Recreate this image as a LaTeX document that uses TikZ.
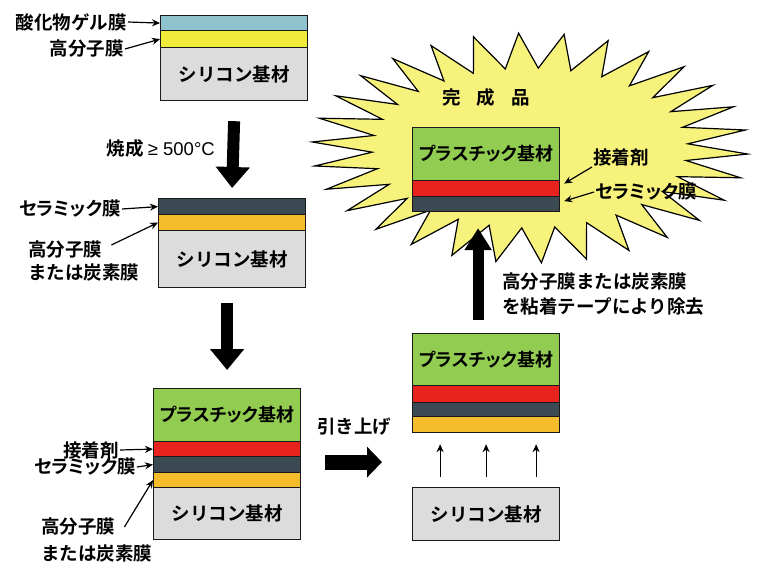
\documentclass[tikz,border=0pt]{standalone}
\usepackage{fontspec}
\setmainfont{Noto Sans CJK JP}[BoldFont={Noto Sans CJK JP Bold}]
\newfontfamily\jpp{Noto Sans CJK JP}[BoldFont={Noto Sans CJK JP Bold}, RawFeature=+palt]
\newfontfamily\lat{Liberation Sans}
\usetikzlibrary{arrows.meta}
\definecolor{cblue}{HTML}{8EC3CE}
\definecolor{cyel}{HTML}{F0EA3A}
\definecolor{cgray}{HTML}{DCDCDC}
\definecolor{cdark}{HTML}{3B4A52}
\definecolor{corange}{HTML}{F5BC2C}
\definecolor{cred}{HTML}{E8231E}
\definecolor{cgreen}{HTML}{92CD52}
\definecolor{cstar}{HTML}{F7F27C}
\newcommand{\jpf}{\bfseries\fontsize{18.5}{21}\selectfont}
\newcommand{\ppf}{\jpp\bfseries\fontsize{18}{21}\selectfont}
\newcommand{\cer}{{\jpp\bfseries\fontsize{18.5}{21}\selectfont セラミック膜}}
\begin{document}
\begin{tikzpicture}[x=1pt,y=-1pt,
  lay/.style={draw=black!90, line width=1.2pt, anchor=north west, inner sep=0pt, minimum width=147pt, font=\jpf},
  plas/.style={font=\ppf},
  lbl/.style={font=\jpf, inner sep=1pt},
  sarr/.style={line width=1.2pt, -{Stealth[length=8pt,width=7pt]}},
  barr/.style={line width=12pt, -{Triangle[length=21pt,width=33pt]}},
  harr/.style={line width=15pt, -{Triangle[length=15pt,width=30pt]}},
  uarr/.style={line width=11pt, -{Triangle[length=22pt,width=26pt]}},
  starsty/.style={draw=black, line width=1.2pt, fill=cstar, line join=miter}]
\path[use as bounding box] (0,0) rectangle (757,567);

% star
\draw[starsty] plot[domain=3:363, samples=61]
  ({530+(218-60*mod(round((\x-3)/6),2))*cos(\x)}, {148+(115-35*mod(round((\x-3)/6),2))*sin(\x)}) -- cycle;

% box 1
\node[lay, fill=cblue, minimum height=15pt] (b1a) at (160,15) {};
\node[lay, fill=cyel, minimum height=17pt] (b1b) at (160,30) {};
\node[lay, fill=cgray, minimum height=53pt] (b1c) at (160,47) {シリコン基材};
\node[lbl, anchor=east] (l1) at (128,22) {酸化物ゲル膜};
\node[lbl, anchor=east] (l2) at (125,49) {高分子膜};
\draw[sarr] (l1.east) -- (b1a.west);
\draw[sarr] (l2.east) -- (b1b.west);

% box 2
\node[lay, fill=cdark, minimum height=16pt] (b2a) at (158,198) {};
\node[lay, fill=corange, minimum height=16pt] (b2b) at (158,214) {};
\node[lay, fill=cgray, minimum height=57pt] (b2c) at (158,230) {シリコン基材};
\node[lbl, anchor=east] (l3) at (122,209) {\cer};
\node[lbl, anchor=west] (l4) at (27,250) {高分子膜};
\node[lbl, anchor=west] (l5) at (27,272) {または炭素膜};
\draw[sarr] (l3.east) -- (b2a.west);
\draw[sarr] ([xshift=8pt,yshift=5pt]l4.east) -- (b2b.west);

% box 3
\node[lay, plas, fill=cgreen, minimum height=53pt] (b3a) at (153,388) {プラスチック基材};
\node[lay, fill=cred, minimum height=15pt] (b3b) at (153,441) {};
\node[lay, fill=cdark, minimum height=16pt] (b3c) at (153,456) {};
\node[lay, fill=corange, minimum height=15pt] (b3d) at (153,472) {};
\node[lay, fill=cgray, minimum height=52pt] (b3e) at (153,487) {シリコン基材};
\node[lbl, anchor=east] (l6) at (120,450) {接着剤};
\node[lbl, anchor=east] (l7) at (137,467) {\cer};
\node[lbl, anchor=west] (l8) at (40,527) {高分子膜};
\node[lbl, anchor=west] (l9) at (40,553) {または炭素膜};
\draw[sarr] (l6.east) -- (b3b.west);
\draw[sarr] (l7.east) -- (b3c.west);
\draw[sarr] ([xshift=8pt]l8.east) -- (b3d.west);

% box 4
\node[lay, plas, fill=cgreen, minimum height=52pt] (b4a) at (412,333) {プラスチック基材};
\node[lay, fill=cred, minimum height=17pt] (b4b) at (412,385) {};
\node[lay, fill=cdark, minimum height=14pt] (b4c) at (412,402) {};
\node[lay, fill=corange, minimum height=16pt] (b4d) at (412,416) {};
\node[lay, fill=cgray, minimum height=53pt] (b4e) at (412,487) {シリコン基材};
\foreach \dx in {-46,0,50}
  \draw[sarr] ([xshift=\dx pt, yshift=10pt]b4e.north) -- ([xshift=\dx pt, yshift=-11pt]b4d.south);

% box 5 (final)
\node[lay, plas, fill=cgreen, minimum height=53pt] (b5a) at (412,127) {プラスチック基材};
\node[lay, fill=cred, minimum height=16pt] (b5b) at (412,180) {};
\node[lay, fill=cdark, minimum height=15pt] (b5c) at (412,196) {};
\node[lbl, anchor=west] (l10) at (592,157) {接着剤};
\node[lbl, anchor=west] (l11) at (594,192) {\cer};
\draw[sarr] (l10.south west) -- ([xshift=4pt,yshift=5pt]b5b.east);
\draw[sarr] (l11.west) -- ([xshift=4pt,yshift=3pt]b5c.east);

% texts
\node[lbl, anchor=east] (t1) at (216,148) {焼成 {\lat\mdseries ≥ 500°C}};
\node[lbl] (t2) at (486,97) {完\hspace{16pt}成\hspace{16pt}品};
\node[lbl, anchor=west] (t3) at (316,427) {引き上げ};
\node[lbl, anchor=west, inner sep=0pt] (t4) at (502,282) {高分子膜または炭素膜};
\node[lbl, anchor=west, inner sep=0pt] (t5) at (502,307) {を粘着テープにより除去};

% big arrows
\draw[barr] ([yshift=-20pt]b1c.south) -- ([yshift=10pt]b2a.north);
\draw[barr] ([yshift=-15pt]b2c.south -| b3a.north) -- ([yshift=18pt]b3a.north);
\draw[harr] ([xshift=24pt,yshift=2.5pt]b3c.east) -- ([xshift=-30pt,yshift=2.5pt]b3c.east -| b4a.west);
\draw[uarr] ([xshift=-8pt,yshift=13pt]b4a.north) -- ([xshift=-8pt,yshift=-16pt]b5c.south);
\end{tikzpicture}
\end{document}
